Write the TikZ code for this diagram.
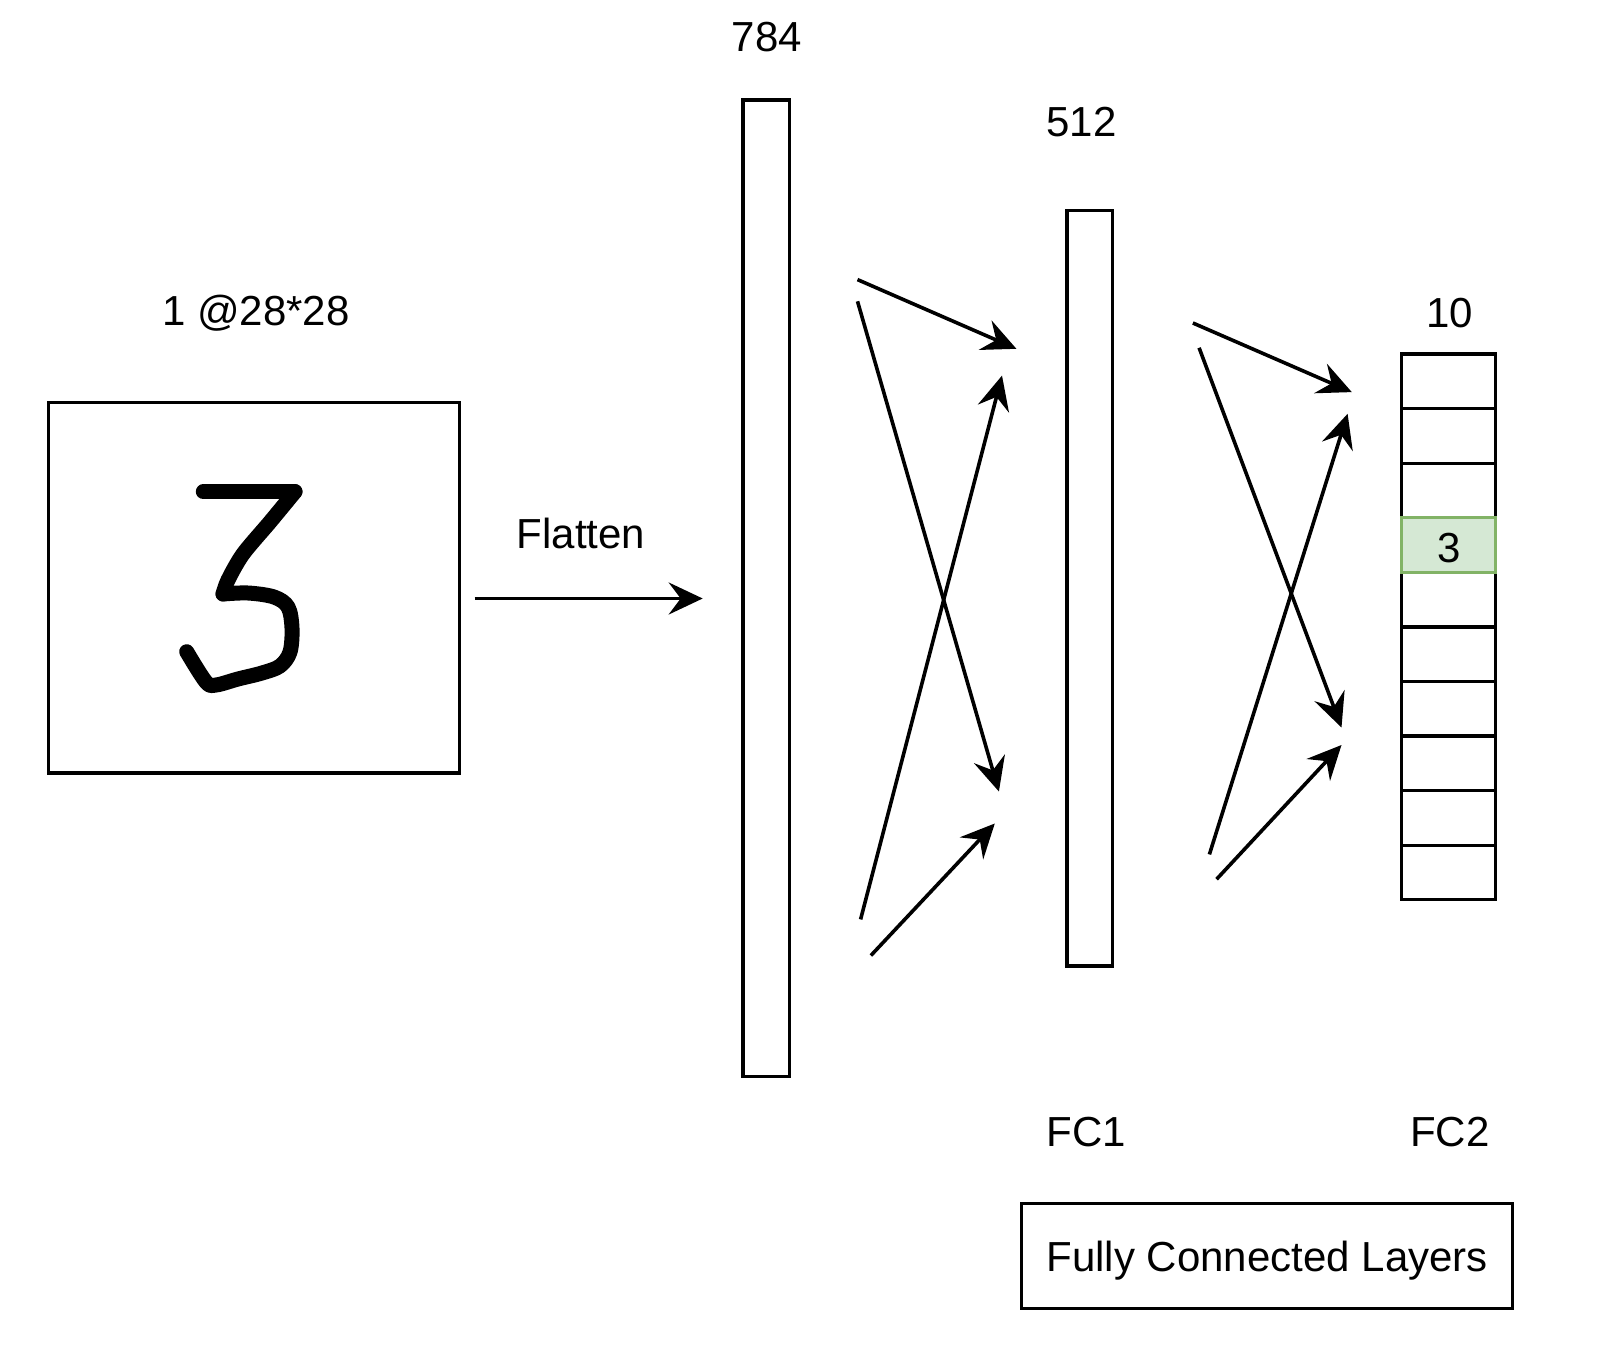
\documentclass[tikz,border=0pt]{standalone}
\usepackage{fontspec}
\setmainfont{Liberation Sans}
\usetikzlibrary{arrows.meta}
\definecolor{cellgreen}{HTML}{D5E8D4}
\definecolor{cellgreenline}{HTML}{82B366}
\begin{document}
\begin{tikzpicture}[x=0.5pt,y=-0.5pt,
  box/.style={draw=black,line width=1.6pt,fill=white,inner sep=0pt},
  lbl/.style={font=\fontsize{21}{25}\selectfont,inner sep=0pt},
  conn/.style={line width=1.8pt,-{Stealth[length=17pt,width=16pt,inset=6pt]}},
  cell/.style={box,minimum width=46.95pt,minimum height=27.29pt}]
\useasboundingbox[fill=white] (0,0) rectangle (1618,1354);
% input image
\node[box,minimum width=205.35pt,minimum height=185.25pt] (img) at (253.9,587.7) {};
\draw[line width=7.5pt,line cap=round,line join=round]
  (203.3,491.7) -- (295,491.7);
\draw[line width=7.5pt,line cap=round,line join=round]
  plot[smooth,tension=0.5] coordinates {(295,491.7) (270,522) (243,554) (228,580) (223,594)};
\draw[line width=7.5pt,line cap=round,line join=round]
  plot[smooth,tension=0.55] coordinates {(223,594) (248,593) (274,597) (288,607) (292,628) (290,652) (280,666) (262,673) (238,679) (216,685) (206,682) (186.7,651.7)};
\node[lbl] (imglbl) at (256,313) {1 @28*28};
% flatten
\coordinate (fs) at (474.7,598.5);
\coordinate (fe) at (702.7,598.5);
\draw[conn] (fs) -- (fe);
\node[lbl] (flat) at (581,533.5) {Flatten};
% 784 bar
\node[box,minimum width=23.2pt,minimum height=488.15pt] (b784) at (766.2,588.2) {};
\node[lbl] (l784) at (766.7,37) {784};
% 512 bar
\node[box,minimum width=22.7pt,minimum height=377.7pt] (b512) at (1089.7,588.2) {};
\node[lbl] (l512) at (1081.5,121.8) {512};
\node[lbl] (fc1) at (1086.6,1132) {FC1};
% first arrow group
\coordinate (a1s) at (857.5,279.6);  \coordinate (a1e) at (1016.4,348.8);
\coordinate (a2s) at (857.5,301.3);  \coordinate (a2e) at (998.9,791.5);
\coordinate (a3s) at (860.6,919.4);  \coordinate (a3e) at (1002,375.6);
\coordinate (a4s) at (870.9,955.5);  \coordinate (a4e) at (994.8,823.5);
\draw[conn] (a1s) -- (a1e);
\draw[conn] (a2s) -- (a2e);
\draw[conn] (a3s) -- (a3e);
\draw[conn] (a4s) -- (a4e);
% second arrow group
\coordinate (b1s) at (1192.9,323);   \coordinate (b1e) at (1351.8,392.1);
\coordinate (b2s) at (1199.1,347.8); \coordinate (b2e) at (1341.5,727.5);
\coordinate (b3s) at (1209.4,854.4); \coordinate (b3e) at (1347.6,413.8);
\coordinate (b4s) at (1216.6,879.2); \coordinate (b4e) at (1341.5,745);
\draw[conn] (b1s) -- (b1e);
\draw[conn] (b2s) -- (b2e);
\draw[conn] (b3s) -- (b3e);
\draw[conn] (b4s) -- (b4e);
% FC2 cells
\foreach \i in {0,1,2,4,5,6,7,8,9} {
  \node[cell] (c\i) at (1448.25,{354+54.58*(\i+0.5)}) {};
}
\node[cell,fill=cellgreen,draw=cellgreenline] (c3) at (1448.25,{354+54.58*3.5}) {};
\node[lbl] (c3t) at (1449.5,{357+54.58*3.5}) {3};
\node[lbl] (l10) at (1449.8,313) {10};
\node[lbl] (fc2) at (1449.8,1132) {FC2};
% legend box
\node[box,minimum width=245.6pt,minimum height=52.65pt,font=\fontsize{21}{25}\selectfont,text depth=0pt] (fcl) at (1267.2,1255.9) {Fully Connected Layers};
\end{tikzpicture}
\end{document}
